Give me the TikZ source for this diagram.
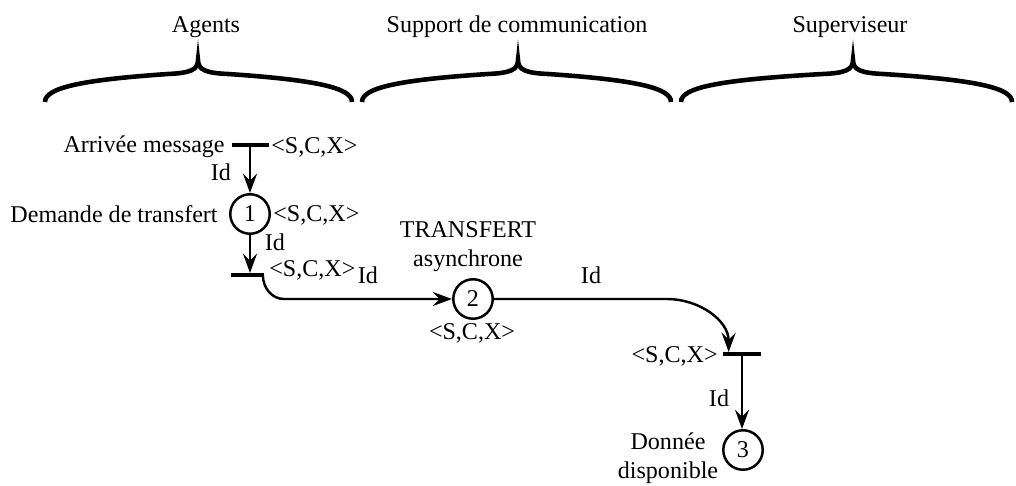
\documentclass[tikz,border=0pt]{standalone}
\usepackage{fontspec}
\setmainfont{Liberation Serif}
\usetikzlibrary{arrows.meta,calc}
\tikzset{
  >={Stealth[length=11pt,width=8pt,inset=4pt]},
  every node/.style={font=\fontsize{13.7}{16.4}\selectfont},
  place/.style={circle,draw,line width=1.4pt,minimum size=0.79cm,inner sep=0pt},
  bar/.style={fill=black,minimum width=0.74cm,minimum height=1.9pt,inner sep=0pt},
  flow/.style={->,line width=1.4pt},
  lbl/.style={inner sep=0pt},
  bracecurve/.style={line width=2.6pt}
}
\begin{document}
\begin{tikzpicture}[x=0.02cm,y=-0.02cm]
  \useasboundingbox (0,0) rectangle (1016,486);
  % column titles
  \node (agents) at (206,27) {Agents};
  \node (support) at (517,27) {Support de communication};
  \node (superv) at (850,27) {Superviseur};
  % braces
  \draw[bracecurve] (45,102) .. controls (45,88) and (80,80) .. (168,74) .. controls (190,73) and (198,70) .. (198,60)
    .. controls (198,70) and (206,73) .. (228,74) .. controls (317,80) and (352,88) .. (352,102);
  \draw[bracecurve] (362,102) .. controls (362,88) and (397,80) .. (488,74) .. controls (510,73) and (518,70) .. (518,60)
    .. controls (518,70) and (526,73) .. (548,74) .. controls (636,80) and (671,88) .. (671,102);
  \draw[bracecurve] (681,102) .. controls (681,88) and (716,80) .. (823,74) .. controls (845,73) and (853,70) .. (853,60)
    .. controls (853,70) and (861,73) .. (883,74) .. controls (977,80) and (1012,88) .. (1012,102);

  % places and transitions
  \node[bar] (t1) at (250,145) {};
  \node[place] (p1) at (250,214) {1};
  \node[bar,minimum width=0.66cm] (t2) at (247,275) {};
  \node[place] (p2) at (473,299) {2};
  \node[bar,minimum width=0.76cm] (t3) at (742,354) {};
  \node[place] (p3) at (743,450) {3};
  \coordinate (k1) at (284,299);
  \coordinate (k2) at (667,299);
  \coordinate (t3in) at ($(t3.north west)+(6,0)$);

  \draw[flow] (t1) -- (p1);
  \draw[flow] (p1) -- (p1 |- t2.north);
  \draw[flow] ($(t2.east)+(-1,0)$) to[out=-90,in=180] (k1) -- (p2);
  \draw[flow] (p2) -- (k2) to[out=0,in=90] (t3in);
  \draw[flow] (t3) -- (t3 |- p3.north);

  % labels
  \node[lbl,anchor=east] (arrivee) at (225,147) {Arrivée message};
  \node[lbl,anchor=west] (m1) at (271,147) {<S,C,X>};
  \node[lbl] (id1) at (221,172) {Id};
  \node[lbl,anchor=east] (demande) at (218,214) {Demande de transfert};
  \node[lbl,anchor=west] (m2) at (273,215) {<S,C,X>};
  \node[lbl] (id2) at (275,242) {Id};
  \node[lbl,anchor=west] (m3) at (269,270) {<S,C,X>};
  \node[lbl] (id3) at (368,275) {Id};
  \node[lbl,align=center] (transfert) at (468,247) {TRANSFERT\\asynchrone};
  \node[lbl] (m4) at (472,333) {<S,C,X>};
  \node[lbl] (id4) at (591,275) {Id};
  \node[lbl,anchor=east] (m5) at (718,356) {<S,C,X>};
  \node[lbl] (id5) at (719,398) {Id};
  \node[lbl,align=center] (donnee) at (668,458) {Donnée\\disponible};
\end{tikzpicture}
\end{document}
